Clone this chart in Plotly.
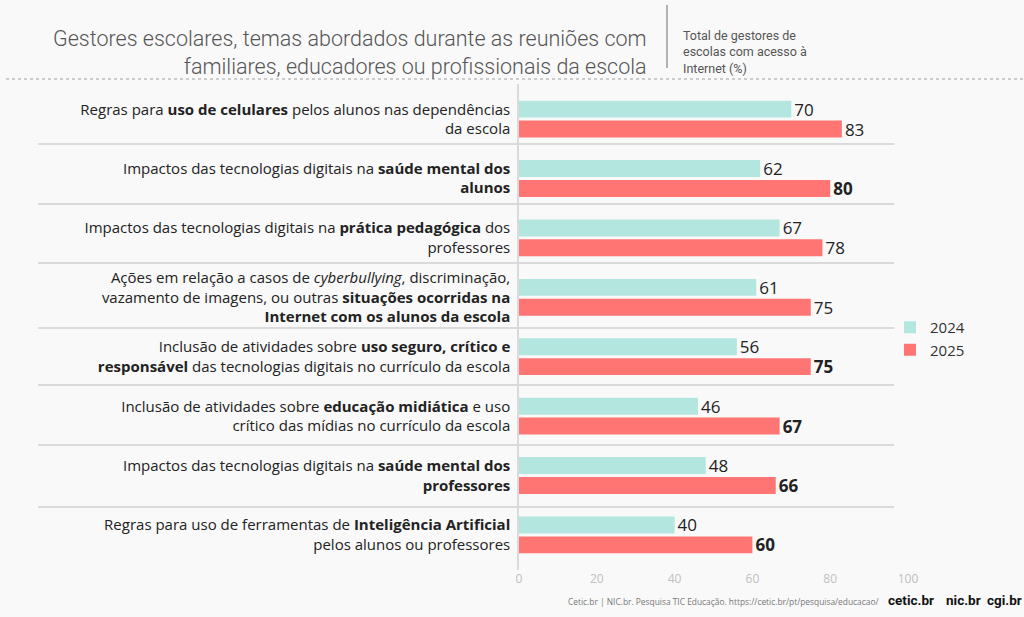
import plotly.graph_objects as go

categorias = [
    "Regras para <b>uso de celulares</b> pelos alunos nas dependências<br>da escola",
    "Impactos das tecnologias digitais na <b>saúde mental dos</b><br><b>alunos</b>",
    "Impactos das tecnologias digitais na <b>prática pedagógica</b> dos<br>professores",
    "Ações em relação a casos de <i>cyberbullying</i>, discriminação,<br>vazamento de imagens, ou outras <b>situações ocorridas na</b><br><b>Internet com os alunos da escola</b>",
    "Inclusão de atividades sobre <b>uso seguro, crítico e</b><br><b>responsável</b> das tecnologias digitais no currículo da escola",
    "Inclusão de atividades sobre <b>educação midiática</b> e uso<br>crítico das mídias no currículo da escola",
    "Impactos das tecnologias digitais na <b>saúde mental dos</b><br><b>professores</b>",
    "Regras para uso de ferramentas de <b>Inteligência Artificial</b><br>pelos alunos ou professores",
]
valores_2024 = [70, 62, 67, 61, 56, 46, 48, 40]
valores_2025 = [83, 80, 78, 75, 75, 67, 66, 60]
destaque_2025 = [False, True, False, False, True, True, True, True]
x_ticks = [0, 20, 40, 60, 80, 100]

# geometria do quadro (pixels da imagem de referência)
W, H = 1024, 617
L, R, T, B = 519, 908, 84, 570


def px_x(p):
    return (p - L) / (R - L)


def px_y(p):
    return (B - p) / (B - T)


COR_2024 = "#b3e6df"
COR_2025 = "#ff7573"
FUNDO = "#f9f9f9"

texto_2025 = [f"<b>{v}</b>" if b else str(v) for v, b in zip(valores_2025, destaque_2025)]

fig = go.Figure()
fig.add_trace(go.Bar(
    y=categorias, x=valores_2024, orientation="h", name="2024",
    marker=dict(color=COR_2024, line=dict(width=0)),
    text=[str(v) for v in valores_2024], textposition="outside",
    textfont=dict(size=17, color="#222", family="Open Sans"),
    constraintext="none", cliponaxis=False,
))
fig.add_trace(go.Bar(
    y=categorias, x=valores_2025, orientation="h", name="2025",
    marker=dict(color=COR_2025, line=dict(width=0)),
    text=texto_2025, textposition="outside",
    textfont=dict(size=17, color="#222", family="Open Sans"),
    constraintext="none", cliponaxis=False,
))

# linhas separadoras entre categorias
for yp in [144, 204, 263, 328, 385, 445, 507]:
    fig.add_shape(type="line", xref="paper", yref="paper",
                  x0=px_x(38), x1=px_x(894), y0=px_y(yp), y1=px_y(yp),
                  line=dict(color="#dadada", width=2), layer="below")

# linha pontilhada sob o título
fig.add_shape(type="line", xref="paper", yref="paper",
              x0=px_x(6), x1=px_x(1024), y0=px_y(79), y1=px_y(79),
              line=dict(color="#bdbdbd", width=1.5, dash="dot"))
# divisória vertical do cabeçalho
fig.add_shape(type="line", xref="paper", yref="paper",
              x0=px_x(667), x1=px_x(667), y0=px_y(5), y1=px_y(68),
              line=dict(color="#9a9a9a", width=1.5))

fig.add_annotation(
    xref="paper", yref="paper", x=px_x(649), y=px_y(52),
    xanchor="right", yanchor="middle", align="right", showarrow=False,
    text="Gestores escolares, temas abordados durante as reuniões com<br>familiares, educadores ou profissionais da escola",
    font=dict(family="Roboto", size=21.5, color="#555", weight=300),
)
fig.add_annotation(
    xref="paper", yref="paper", x=px_x(681), y=px_y(52),
    xanchor="left", yanchor="middle", align="left", showarrow=False,
    text="Total de gestores de<br>escolas com acesso à<br>Internet (%)",
    font=dict(family="Roboto", size=12.5, color="#555"),
)
fig.add_annotation(
    xref="paper", yref="paper", x=px_x(881), y=px_y(601),
    xanchor="right", yanchor="middle", showarrow=False,
    text="Cetic.br | NIC.br. Pesquisa TIC Educação. https://cetic.br/pt/pesquisa/educacao/",
    font=dict(family="Open Sans", size=8.4, color="#777"),
)
for logo, xc in [("cetic.br", 911), ("nic.br", 963), ("cgi.br", 1004)]:
    fig.add_annotation(
        xref="paper", yref="paper", x=px_x(xc), y=px_y(600),
        xanchor="center", yanchor="middle", showarrow=False,
        text=f"<b>{logo}</b>",
        font=dict(family="Roboto", size=13.5, color="#111"),
    )

fig.update_layout(
    width=W, height=H,
    margin=dict(l=L, r=W - R, t=T, b=H - B),
    paper_bgcolor=FUNDO, plot_bgcolor=FUNDO,
    barmode="group", bargap=0.33, bargroupgap=0.15,
    font=dict(family="Open Sans", color="#222"),
    showlegend=True,
    legend=dict(x=px_x(890), y=px_y(311), xanchor="left", yanchor="top",
                bgcolor="rgba(0,0,0,0)", font=dict(size=15, color="#333"),
                traceorder="normal"),
    xaxis=dict(range=[0, 100], tickvals=x_ticks, showgrid=False, zeroline=False,
               showline=False, tickfont=dict(size=12, color="#c0c0c0"),
               ticks="", fixedrange=True),
    yaxis=dict(type="category", range=[7.59, -0.59], showgrid=False,
               showline=True, linecolor="#dadada", linewidth=1.5,
               ticks="", ticklabelstandoff=4,
               tickfont=dict(size=15, color="#222", family="Open Sans")),
)

fig.write_html("out.html", config={"displayModeBar": False},
               post_script="document.body.style.margin='0';document.body.style.background='#f9f9f9';")
